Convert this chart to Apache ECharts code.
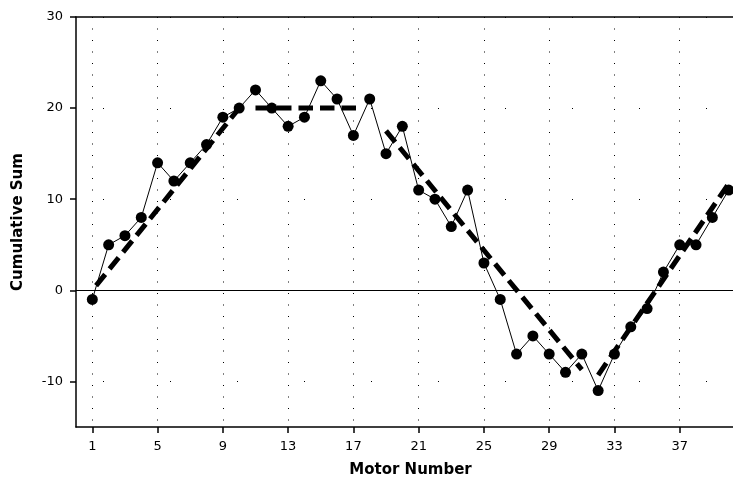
<!DOCTYPE html>
<html>
<head>
<meta charset="utf-8">
<script src="https://cdn.jsdelivr.net/npm/echarts@6/dist/echarts.min.js"></script>
<style>
  html, body { margin: 0; padding: 0; background: #ffffff; }
  #chart { width: 733px; height: 477px; }
</style>
</head>
<body>
<div id="chart"></div>
<script>
// Motor numbers and the cumulative sum of deviations for each motor
const motorNumbers = [1, 2, 3, 4, 5, 6, 7, 8, 9, 10,
  11, 12, 13, 14, 15, 16, 17, 18, 19, 20,
  21, 22, 23, 24, 25, 26, 27, 28, 29, 30,
  31, 32, 33, 34, 35, 36, 37, 38, 39, 40];
const cumulativeSum = [-1, 5, 6, 8, 14, 12, 14, 16, 19, 20,
  22, 20, 18, 19, 23, 21, 17, 21, 15, 18,
  11, 10, 7, 11, 3, -1, -7, -5, -7, -9,
  -7, -11, -7, -4, -2, 2, 5, 5, 8, 11];

// Fitted trend segments (start / end of each regime)
const trendRiseX = [1, 10];
const trendRiseY = [0, 20];
const trendFlatX = [11, 17.3];
const trendFlatY = [20, 20];
const trendFallX = [19, 31];
const trendFallY = [17.5, -8.7];
const trendRecoverX = [32, 40];
const trendRecoverY = [-9.3, 11.7];

// Axis tick labels
const xTicks = [1, 5, 9, 13, 17, 21, 25, 29, 33, 37];
const yTicks = [-10, 0, 10, 20, 30];

function pairs(xs, ys) {
  return xs.map((x, i) => [x, ys[i]]);
}

const tickFont = { fontFamily: 'DejaVu Sans', fontSize: 13, color: '#000' };
const titleFont = { fontFamily: 'DejaVu Sans', fontSize: 15, fontWeight: 'bold', color: '#000' };
const frameLine = { color: '#000', width: 1.5 };

function trendSeries(xs, ys, offset) {
  return {
    type: 'line',
    data: pairs(xs, ys),
    symbol: 'none',
    silent: true,
    z: 3,
    lineStyle: { color: '#000', width: 5, type: [14.5, 7], dashOffset: offset || 0, cap: 'butt' }
  };
}

const chart = echarts.init(document.getElementById('chart'), null, { renderer: 'canvas' });
chart.setOption({
  animation: false,
  backgroundColor: '#ffffff',
  grid: {
    left: 76, top: 17, width: 669, height: 410,
    outerBoundsMode: 'none',
    containLabel: false,
    show: false
  },
  xAxis: [{
    type: 'value',
    min: 0, max: 41,
    name: 'Motor Number',
    nameLocation: 'middle',
    nameGap: 36,
    nameTextStyle: titleFont,
    axisLine: { show: true, onZero: false, lineStyle: frameLine },
    axisTick: { show: true, length: 6, customValues: xTicks, lineStyle: frameLine },
    axisLabel: Object.assign({ customValues: xTicks, margin: 13 }, tickFont),
    splitLine: { show: true, lineStyle: { color: '#000', width: 1, type: [1, 10.5] } }
  }, {
    // top frame edge
    type: 'value',
    position: 'top',
    min: 0, max: 41,
    axisLine: { show: true, onZero: false, lineStyle: frameLine },
    axisTick: { show: false },
    axisLabel: { show: false },
    splitLine: { show: false }
  }],
  yAxis: {
    type: 'value',
    min: -15, max: 30,
    name: 'Cumulative Sum',
    nameLocation: 'middle',
    nameGap: 50,
    nameRotate: 90,
    nameTextStyle: titleFont,
    axisLine: { show: true, onZero: false, lineStyle: frameLine },
    axisTick: { show: true, length: 6, customValues: yTicks, lineStyle: frameLine },
    axisLabel: Object.assign({ customValues: yTicks, margin: 13 }, tickFont),
    splitLine: { show: true, lineStyle: { color: '#000', width: 1, type: [1, 66], dashOffset: 40 } }
  },
  series: [
    trendSeries(trendRiseX, trendRiseY, 15.5),
    trendSeries(trendFlatX, trendFlatY, 0),
    trendSeries(trendFallX, trendFallY, 0),
    trendSeries(trendRecoverX, trendRecoverY, 0),
    {
      type: 'line',
      data: pairs(motorNumbers, cumulativeSum),
      symbol: 'circle',
      symbolSize: 11,
      z: 4,
      itemStyle: { color: '#000', borderWidth: 0 },
      lineStyle: { color: '#000', width: 1 },
      markLine: {
        silent: true,
        symbol: 'none',
        label: { show: false },
        lineStyle: { color: '#000', width: 1, type: 'solid' },
        data: [{ yAxis: 0 }]
      }
    }
  ]
});
</script>
</body>
</html>
